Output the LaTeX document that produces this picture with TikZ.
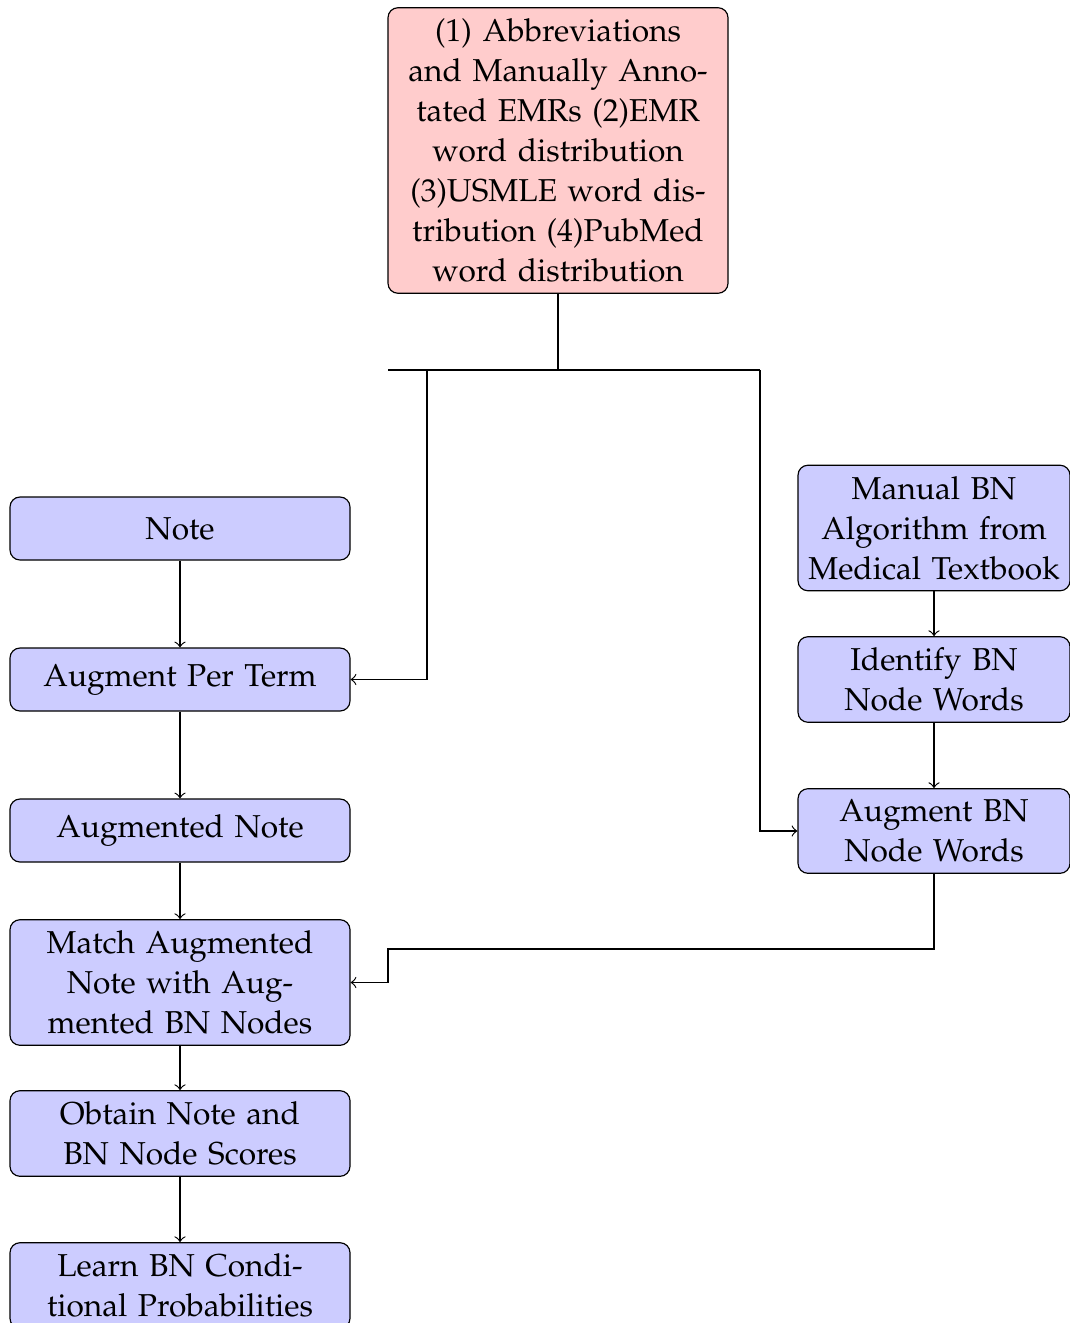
\documentclass[tikz,border=0pt]{standalone}
\usepackage[T1]{fontenc}
\usepackage{mathpazo}
\begin{document}
\begin{tikzpicture}[x=0.3pt,y=-0.3pt, line width=0.35pt,
  box/.style={draw, rounded corners=3pt, align=center, inner ysep=3.3pt,
    minimum height=18.9pt, font=\fontsize{9.5}{12}\selectfont},
  wide/.style={box, text width=91.8pt, inner xsep=5.1pt},
  narrow/.style={box, text width=77.4pt, inner xsep=2.1pt},
  src/.style={wide, fill=red!20},
  stepbox/.style={fill=blue!20},
  >=to]
\useasboundingbox (0,0) rectangle (1070,1323);

% data sources
\node[src] (src) at (558,150.5) {(1) Abbreviations and Manually Annotated EMRs (2)EMR word distribution (3)USMLE word distribution (4)PubMed word distribution};

% note pipeline
\node[wide, stepbox] (note)    at (180,528.5)  {Note};
\node[wide, stepbox] (augterm) at (180,679.5)  {Augment Per Term};
\node[wide, stepbox] (augnote) at (180,830.5)  {Augmented Note};
\node[wide, stepbox] (match)   at (180,982.5)  {Match Augmented Note with Augmented BN Nodes};
\node[wide, stepbox] (scores)  at (180,1133.5) {Obtain Note and BN Node Scores};
\node[wide, stepbox] (learn)   at (180,1285.5) {Learn BN Conditional Probabilities};

% BN pipeline
\node[narrow, stepbox] (manual)   at (934,528)   {Manual BN Algorithm from Medical Textbook};
\node[narrow, stepbox] (identify) at (934,679.5) {Identify BN Node Words};
\node[narrow, stepbox] (augbn)    at (934,831)   {Augment BN Node Words};

% junctions
\coordinate (split) at (558,370);
\coordinate (stubL) at (388,370);
\coordinate (jL)    at (427,370);
\coordinate (jR)    at (760,370);
\coordinate (bend)  at (388,949);

\draw (src.south) -- (split);
\draw (stubL) -- (jR);
\draw[->] (jL) |- (augterm.east);
\draw[->] (jR) |- (augbn.west);

\draw[->] (note) -- (augterm);
\draw[->] (augterm) -- (augnote);
\draw[->] (augnote) -- (match);
\draw[->] (match) -- (scores);
\draw[->] (scores) -- (learn);

\draw[->] (manual) -- (identify);
\draw[->] (identify) -- (augbn);
\draw[->] (augbn.south) |- (bend) |- (match.east);
\end{tikzpicture}
\end{document}
